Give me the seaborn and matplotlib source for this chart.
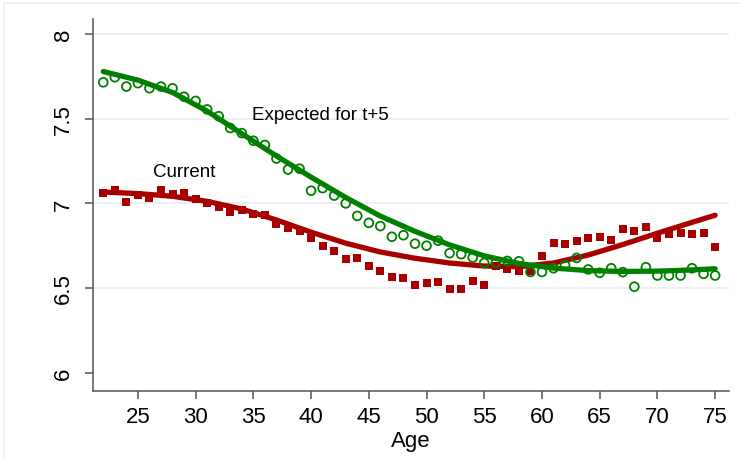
import matplotlib
matplotlib.use("Agg")
import matplotlib.pyplot as plt
from matplotlib.lines import Line2D
import pandas as pd
import seaborn as sns

# Mean life satisfaction by age (binned means)
ages = list(range(22, 76))

expected_t5 = [
    7.715, 7.745, 7.690, 7.710, 7.680, 7.690, 7.680, 7.630, 7.605, 7.555,
    7.515, 7.445, 7.415, 7.370, 7.345, 7.265, 7.200, 7.205, 7.075, 7.090,
    7.046, 7.000, 6.926, 6.885, 6.866, 6.803, 6.812, 6.762, 6.750, 6.780,
    6.706, 6.700, 6.680, 6.648, 6.650, 6.660, 6.658, 6.595, 6.595, 6.617,
    6.635, 6.678, 6.610, 6.590, 6.617, 6.594, 6.508, 6.623, 6.574, 6.574,
    6.574, 6.617, 6.584, 6.574,
]

current = [
    7.062, 7.078, 7.008, 7.048, 7.030, 7.078, 7.056, 7.062, 7.028, 7.005,
    6.978, 6.948, 6.960, 6.935, 6.934, 6.878, 6.856, 6.834, 6.793, 6.750,
    6.718, 6.672, 6.678, 6.633, 6.603, 6.567, 6.558, 6.516, 6.527, 6.537,
    6.497, 6.497, 6.542, 6.516, 6.628, 6.613, 6.603, 6.598, 6.692, 6.766,
    6.758, 6.778, 6.795, 6.804, 6.781, 6.850, 6.836, 6.858, 6.795, 6.820,
    6.827, 6.817, 6.828, 6.744,
]

# Smoothed age profiles (model fits)
fit_ages = [22, 25, 28, 31, 34, 37, 40, 43, 46, 49, 52, 55, 58, 61, 64, 67, 70, 73, 75]
fit_expected = [7.779, 7.728, 7.655, 7.545, 7.412, 7.280, 7.155, 7.035, 6.925, 6.835,
                6.755, 6.690, 6.645, 6.618, 6.603, 6.598, 6.600, 6.607, 6.614]
fit_current = [7.067, 7.058, 7.042, 7.012, 6.967, 6.902, 6.830, 6.765, 6.713, 6.676,
               6.648, 6.630, 6.626, 6.648, 6.695, 6.757, 6.824, 6.888, 6.930]

x_ticks = [25, 30, 35, 40, 45, 50, 55, 60, 65, 70, 75]
y_ticks = [6, 6.5, 7, 7.5, 8]
y_tick_labels = ["6", "6.5", "7", "7.5", "8"]
grid_levels = [6.5, 7, 7.5, 8]

label_current = "Current"
label_expected = "Expected for t+5"

RED = "#a80000"
GREEN = "#008000"
FONT = ["Liberation Sans", "DejaVu Sans"]

sns.set_theme(style="white")
plt.rcParams["font.family"] = FONT

means = pd.DataFrame({"age": ages, "current": current, "expected": expected_t5})
fits = pd.DataFrame({"age": fit_ages, "current": fit_current, "expected": fit_expected})

W, H = 740, 460
fig = plt.figure(figsize=(W / 100, H / 100), dpi=100)
fig.patch.set_facecolor("white")

# plot region in pixel terms
left_px, right_px, top_px, bottom_px = 93, 729, 20, 392
ax = fig.add_axes([left_px / W, 1 - bottom_px / H,
                   (right_px - left_px) / W, (bottom_px - top_px) / H])
ax.set_facecolor("white")

# light outer border of the graph region
fig.add_artist(Line2D([4 / W, 1], [1 - 4 / H, 1 - 4 / H],
                      transform=fig.transFigure, color="#eceff0", lw=1.2))
fig.add_artist(Line2D([4 / W, 4 / W], [0, 1 - 4 / H],
                      transform=fig.transFigure, color="#eceff0", lw=1.2))

for g in grid_levels:
    ax.axhline(g, color="#e9eef0", lw=1.3, zorder=0)

# current: squares + fitted profile
sns.scatterplot(data=means, x="age", y="current", ax=ax, marker="s", s=26,
                color=RED, linewidth=0, zorder=2, legend=False)
sns.lineplot(data=fits, x="age", y="current", ax=ax, color=RED, lw=3.8,
             sort=False, zorder=3, legend=False,
             solid_capstyle="round", solid_joinstyle="round")

# expected in five years: hollow circles + fitted profile
sns.scatterplot(data=means, x="age", y="expected", ax=ax, marker="o", s=40,
                facecolors="none", edgecolor=GREEN, linewidth=1.3,
                zorder=4, legend=False)
sns.lineplot(data=fits, x="age", y="expected", ax=ax, color=GREEN, lw=3.8,
             sort=False, zorder=5, legend=False,
             solid_capstyle="round", solid_joinstyle="round")

ax.text(34.85, 7.527, label_expected, ha="left", va="center",
        fontsize=13.5, color="black", family=FONT)
ax.text(26.3, 7.19, label_current, ha="left", va="center",
        fontsize=13.5, color="black", family=FONT)

ax.set_xlim(21.11, 76.2)
ax.set_ylim(5.892, 8.089)
ax.set_xticks(x_ticks)
ax.set_xticklabels([str(t) for t in x_ticks])
ax.set_yticks(y_ticks)
ax.set_yticklabels(y_tick_labels, rotation=90, va="center")

for side in ["top", "right"]:
    ax.spines[side].set_visible(False)
for side in ["left", "bottom"]:
    ax.spines[side].set_color("#555555")
    ax.spines[side].set_linewidth(1.1)

ax.tick_params(axis="both", which="major", direction="out", length=6,
               width=1.1, color="#555555", labelsize=16, labelcolor="black",
               left=True, bottom=True)
ax.tick_params(axis="y", pad=8)
ax.tick_params(axis="x", pad=5)

ax.set_xlabel("Age", fontsize=16, color="black", labelpad=2)
ax.set_ylabel("")

fig.savefig("out.png", dpi=100, facecolor="white")
